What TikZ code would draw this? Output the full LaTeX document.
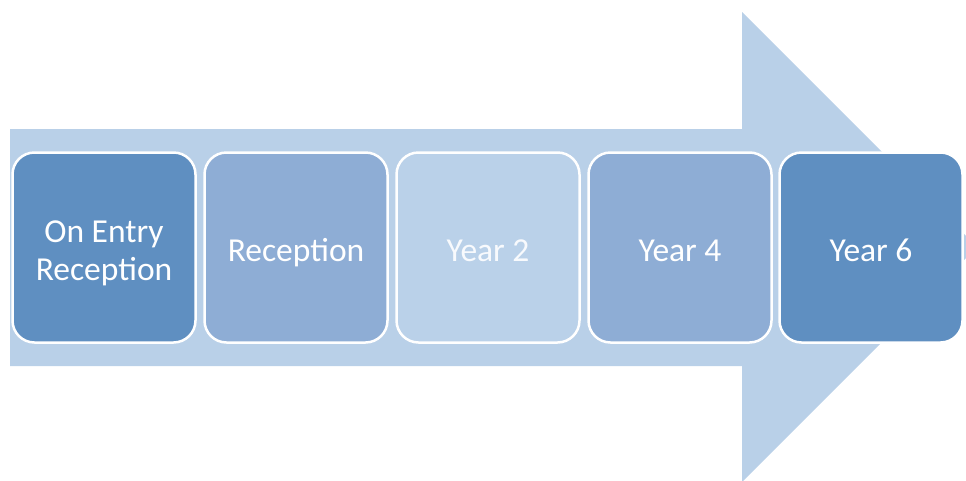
\documentclass[tikz,border=0pt]{standalone}
\usepackage{fontspec}
\setmainfont{Carlito}
\definecolor{arrowc}{HTML}{B9D0E8}
\definecolor{darkc}{HTML}{5F8FC1}
\definecolor{midc}{HTML}{8EADD5}
\definecolor{lightc}{HTML}{BAD1E9}
\newcommand{\stxt}[1]{\raisebox{-6pt}[\height][\depth]{\begin{tabular}{@{}c@{}}#1\end{tabular}}}
\begin{document}
\begin{tikzpicture}[x=1pt,y=-1pt,
  stagebox/.style={draw=white, line width=2.5pt, rounded corners=22pt,
    minimum width=183pt, minimum height=190pt, inner sep=0pt,
    text=white, font=\fontsize{33.5}{38}\selectfont, align=center}]
\useasboundingbox (0,0) rectangle (966,480);
\fill[arrowc] (10,129) -- (742,129) -- (742,12) -- (977,247) -- (742,482)
  -- (742,366) -- (10,366) -- cycle;
\node[stagebox, fill=darkc]  (s1) at (104,247.5) {\stxt{On Entry\\Reception}};
\node[stagebox, fill=midc]   (s2) at (296,247.5) {\stxt{Reception}};
\node[stagebox, fill=lightc, text=white!90!lightc] (s3) at (488,247.5) {\stxt{Year 2}};
\node[stagebox, fill=midc]   (s4) at (680,247.5) {\stxt{Year 4}};
\node[stagebox, fill=darkc]  (s5) at (871,247.5) {\stxt{Year 6}};
\end{tikzpicture}
\end{document}
